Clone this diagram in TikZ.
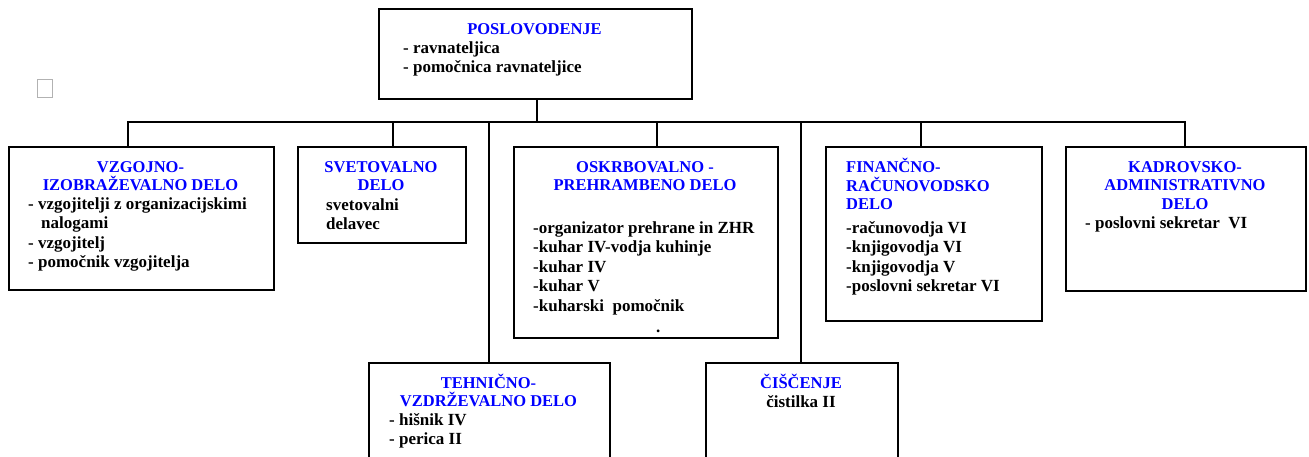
\documentclass[tikz,border=0pt]{standalone}
\usepackage{fontspec}
\setmainfont{Liberation Serif}
\usepackage{tikz}

\begin{document}
\begin{tikzpicture}[x=1pt,y=-1pt]
\tikzset{box/.style={draw,line width=1.8pt,anchor=north west,inner sep=0pt},
  txt/.style={font=\fontsize{17}{19.5}\selectfont\bfseries,inner sep=0pt,align=left,anchor=base west},
  head/.style={txt,font=\fontsize{16.5}{18.5}\selectfont\bfseries,text=blue,align=center,anchor=base},
  headleft/.style={head,align=left,anchor=base west},
  link/.style={line width=1.8pt}}
\clip (0,0) rectangle (1309,456);
\node[draw=gray!60,line width=0.6pt,minimum width=15pt,minimum height=18pt,anchor=north west,inner sep=0pt] (mark) at (37,79) {};
% vodstvo (base = zadnja vrstica)
\node[box,minimum width=313pt,minimum height=90pt] (top) at (378,8) {};
\node[head] (topHead) at (534.5,34) {POSLOVODENJE};
\node[txt] (topList) at (403,72.5) {- ravnateljica\\- pomočnica ravnateljice};
% enote
\node[box,minimum width=265pt,minimum height=143pt] (viz) at (8,146) {};
\node[head] (vizHead) at (140.5,190.5) {VZGOJNO-\\IZOBRAŽEVALNO DELO};
\node[txt] (vizList) at (28,267.5) {- vzgojitelji z organizacijskimi\\\hspace*{13pt}nalogami\\- vzgojitelj\\- pomočnik vzgojitelja};
\node[box,minimum width=168pt,minimum height=96pt] (svet) at (297,146) {};
\node[head] (svetHead) at (381,190.5) {SVETOVALNO\\DELO};
\node[txt] (svetList) at (326,229.5) {svetovalni\\delavec};
\node[box,minimum width=264pt,minimum height=191pt] (osk) at (513,146) {};
\node[head] (oskHead) at (645,190.5) {OSKRBOVALNO -\\PREHRAMBENO DELO};
\node[txt] (oskList) at (533,311) {-organizator prehrane in ZHR\\-kuhar IV-vodja kuhinje\\-kuhar IV\\-kuhar V\\-kuharski~ pomočnik};
\node[txt] (oskDot) at (656,332) {.};
\node[box,minimum width=216pt,minimum height=174pt] (fin) at (825,146) {};
\node[headleft] (finHead) at (846,209.5) {FINANČNO-\\RAČUNOVODSKO\\DELO};
\node[txt] (finList) at (846,291.5) {-računovodja VI\\-knjigovodja VI\\-knjigovodja V\\-poslovni sekretar VI};
\node[box,minimum width=240pt,minimum height=144pt] (kad) at (1065,146) {};
\node[head] (kadHead) at (1185,209) {KADROVSKO-\\ADMINISTRATIVNO\\DELO};
\node[txt] (kadList) at (1085,228) {- poslovni sekretar~ VI};
\node[box,minimum width=241pt,minimum height=120pt] (teh) at (368,362) {};
\node[head] (tehHead) at (488.5,406.5) {TEHNIČNO-\\VZDRŽEVALNO DELO};
\node[txt] (tehList) at (389,444.5) {- hišnik IV\\- perica II};
\node[box,minimum width=192pt,minimum height=120pt] (cis) at (705,362) {};
\node[head] (cisHead) at (801,388) {ČIŠČENJE};
\node[txt,anchor=base] (cisList) at (801,407) {čistilka II};
% povezave
\coordinate (bus) at (537,122);
\foreach \b/\x in {viz/128,svet/393,teh/489,osk/657,cis/801,fin/921,kad/1185}
  \coordinate (j-\b) at (\x,122);
\draw[link] (top.south -| bus) -- (bus);
\draw[link] (viz.north -| j-viz) -- (j-viz) -- (j-kad) -- (kad.north -| j-kad);
\foreach \b in {svet,teh,osk,cis,fin}
  \draw[link] (j-\b) -- (\b.north -| j-\b);
\end{tikzpicture}
\end{document}
